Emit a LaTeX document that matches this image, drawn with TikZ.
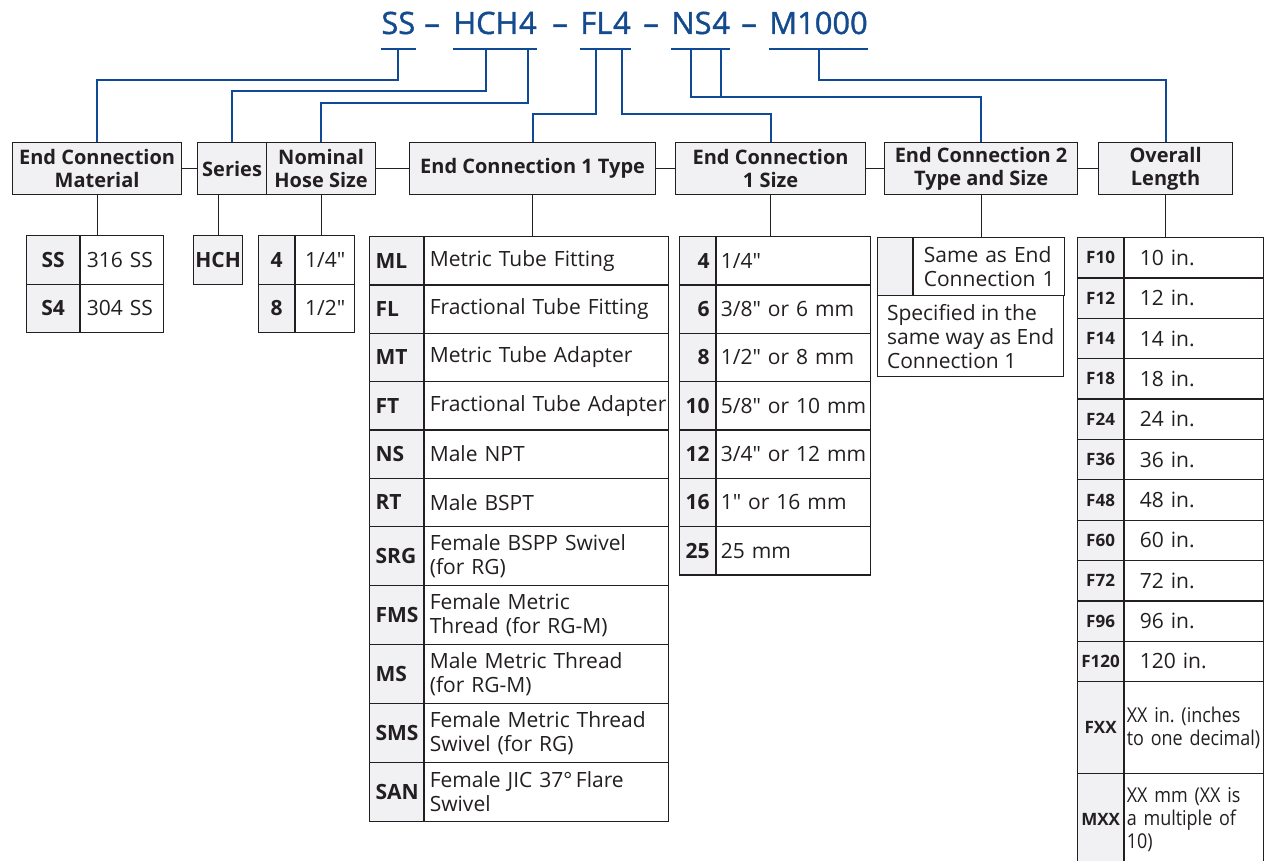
\documentclass[tikz,border=0pt]{standalone}
\usepackage{fontspec}
\setmainfont{Open Sans}[Ligatures=TeXOff]
\newfontfamily\titlefont{Open Sans}[FakeBold=1.2]
\usetikzlibrary{positioning}

\definecolor{codeblue}{HTML}{134B8E}
\definecolor{linkblue}{HTML}{0E4A96}
\definecolor{cellgray}{HTML}{F1F0F2}
\definecolor{inkgray}{HTML}{231F20}

\newcommand\cellfont{\fontsize{10.5}{12}\selectfont}
\frenchspacing

\begin{document}
\begin{tikzpicture}[
  x=0.5pt,
  y=-0.5pt,
  title/.style={font=\titlefont\fontsize{15.4}{18}\selectfont, text=codeblue, inner sep=0pt, anchor=base west},
  header/.style={
    draw=inkgray,
    fill=cellgray,
    line width=0.6pt,
    anchor=north west,
    align=center,
    inner sep=0pt,
    minimum height=26pt,
    text=inkgray,
    font=\bfseries\fontsize{10}{11.5}\selectfont
  },
  cell/.style={draw=inkgray, line width=0.6pt, anchor=north west, inner sep=0pt, text=inkgray},
  code/.style={cell, fill=cellgray, font=\bfseries\cellfont},
  desc/.style={cell, fill=white, align=left, font=\cellfont},
  matcode/.style={code, minimum width=26.5pt, minimum height=24.25pt},
  matdesc/.style={desc, inner xsep=3pt, text width=35.5pt, minimum height=24.25pt},
  sercode/.style={code, minimum width=24.5pt, minimum height=24.5pt},
  hosecode/.style={code, minimum width=18pt, minimum height=24.25pt},
  hosedesc/.style={desc, align=center, minimum width=29.5pt, minimum height=24.25pt},
  typecode/.style={code, align=left, inner xsep=3pt, text width=21pt, minimum height=24.17pt},
  typedesc/.style={desc, inner xsep=2.5pt, text width=117pt, minimum height=24.17pt},
  tall/.style={minimum height=29.5pt},
  sizecode/.style={code, align=right, inner xsep=3pt, text width=12pt, minimum height=24.17pt},
  sizedesc/.style={desc, inner xsep=2pt, text width=73pt, minimum height=24.17pt},
  lencode/.style={code, minimum width=23pt, minimum height=20.18pt, font=\bfseries\fontsize{8.5}{10}\selectfont},
  lendesc/.style={desc, inner xsep=7.5pt, text width=54.5pt, minimum height=20.18pt},
  wide/.style={minimum height=46pt, inner xsep=1pt, text width=67.5pt, font=\fontsize{10.2}{11.5}\selectfont\addfontfeatures{FakeStretch=0.88}},
  link/.style={draw=linkblue, line width=1pt},
  tie/.style={draw=inkgray, line width=0.6pt}
]
\fill[white] (0,0) rectangle (1268,861);
\useasboundingbox (0,0) rectangle (1268,861);

% part number
\node[title] (tSS) at (381,34) {SS};
\node[title] (tDa) at (424,34) {–};
\node[title] (tHCH) at (453,34) {HCH};
\node[title] (tH4) at (tHCH.base east) {4};
\node[title] (tDb) at (552,34) {–};
\node[title] (tFL) at (580,34) {FL};
\node[title] (tF4) at (tFL.base east) {4};
\node[title] (tDc) at (643,34) {–};
\node[title] (tNS) at (671,34) {NS};
\node[title] (tN4) at (tNS.base east) {4};
\node[title] (tDd) at (741,34) {–};
\node[title] (tM) at (769,34) {M1000};

% field headers
\node[header, minimum width=84.5pt] (hMat) at (12,142) {End Connection\\Material};
\node[header, minimum width=34.5pt] (hSer) at (197,142) {Series};
\node[header, minimum width=54.5pt] (hHose) at (266,142) {Nominal\\Hose Size};
\node[header, minimum width=123pt] (hT1) at (409,142) {End Connection 1 Type};
\node[header, minimum width=95pt] (hS1) at (675,142) {End Connection\\1 Size};
\node[header, minimum width=96.5pt] (hEnd2) at (884,142) {End Connection 2\\Type and Size};
\node[header, minimum width=67pt] (hLen) at (1098,142) {Overall\\Length};

% material
\node[matcode] (matSS) at (26,235) {SS};
\node[matdesc, right=0pt of matSS] (matSSt) {316 SS};
\node[matcode] (matS4) at (26,283.5) {S4};
\node[matdesc, right=0pt of matS4] (matS4t) {304 SS};

% series
\node[sercode] (serHCH) at (193,235) {HCH};

% hose size
\node[hosecode] (hose4) at (258,235) {4};
\node[hosedesc, right=0pt of hose4] (hose4t) {1/4"};
\node[hosecode] (hose8) at (258,283.5) {8};
\node[hosedesc, right=0pt of hose8] (hose8t) {1/2"};

% end connection 1 type
\node[typecode] (tyML) at (369,236) {ML};
\node[typedesc, right=0pt of tyML] (tyMLt) {Metric Tube Fitting};
\node[typecode] (tyFL) at (369,284.3) {FL};
\node[typedesc, right=0pt of tyFL] (tyFLt) {Fractional Tube Fitting};
\node[typecode] (tyMT) at (369,332.7) {MT};
\node[typedesc, right=0pt of tyMT] (tyMTt) {Metric Tube Adapter};
\node[typecode] (tyFT) at (369,381) {FT};
\node[typedesc, right=0pt of tyFT] (tyFTt) {\mbox{Fractional Tube Adapter}};
\node[typecode] (tyNS) at (369,429.3) {NS};
\node[typedesc, right=0pt of tyNS] (tyNSt) {Male NPT};
\node[typecode] (tyRT) at (369,477.7) {RT};
\node[typedesc, right=0pt of tyRT] (tyRTt) {Male BSPT};
\node[typecode, tall] (tySRG) at (369,526) {SRG};
\node[typedesc, tall, right=0pt of tySRG] (tySRGt) {Female BSPP Swivel\\(for RG)};
\node[typecode, tall] (tyFMS) at (369,585) {FMS};
\node[typedesc, tall, right=0pt of tyFMS] (tyFMSt) {Female Metric\\Thread (for RG-M)};
\node[typecode, tall] (tyMS) at (369,644) {MS};
\node[typedesc, tall, right=0pt of tyMS] (tyMSt) {Male Metric Thread\\(for RG-M)};
\node[typecode, tall] (tySMS) at (369,703) {SMS};
\node[typedesc, tall, right=0pt of tySMS] (tySMSt) {Female Metric Thread\\Swivel (for RG)};
\node[typecode, tall] (tySAN) at (369,762) {SAN};
\node[typedesc, tall, right=0pt of tySAN] (tySANt) {Female JIC 37°\,Flare\\Swivel};

% end connection 1 size
\node[sizecode] (sz4) at (679,236) {4};
\node[sizedesc, right=0pt of sz4] (sz4t) {1/4"};
\node[sizecode] (sz6) at (679,284.3) {6};
\node[sizedesc, right=0pt of sz6] (sz6t) {3/8" or 6 mm};
\node[sizecode] (sz8) at (679,332.7) {8};
\node[sizedesc, right=0pt of sz8] (sz8t) {1/2" or 8 mm};
\node[sizecode] (sz10) at (679,381) {10};
\node[sizedesc, right=0pt of sz10] (sz10t) {5/8" or 10 mm};
\node[sizecode] (sz12) at (679,429.3) {12};
\node[sizedesc, right=0pt of sz12] (sz12t) {3/4" or 12 mm};
\node[sizecode] (sz16) at (679,477.7) {16};
\node[sizedesc, right=0pt of sz16] (sz16t) {1" or 16 mm};
\node[sizecode] (sz25) at (679,526) {25};
\node[sizedesc, right=0pt of sz25] (sz25t) {25 mm};

% end connection 2
\node[code, minimum width=17.5pt, minimum height=29pt] (endSame) at (877,237) {};
\node[desc, inner xsep=5pt, text width=65.5pt, minimum height=29pt, right=0pt of endSame] (endSamet) {Same as End\\Connection 1};
\node[desc, minimum width=93pt, minimum height=40.5pt] (endSpec) at (877,295) {Specified in the\\same way as End\\Connection 1};

% overall length
\node[lencode] (lenF10) at (1077,237) {F10};
\node[lendesc, right=0pt of lenF10] (lenF10t) {10 in.};
\node[lencode] (lenF12) at (1077,277.4) {F12};
\node[lendesc, right=0pt of lenF12] (lenF12t) {12 in.};
\node[lencode] (lenF14) at (1077,317.7) {F14};
\node[lendesc, right=0pt of lenF14] (lenF14t) {14 in.};
\node[lencode] (lenF18) at (1077,358.1) {F18};
\node[lendesc, right=0pt of lenF18] (lenF18t) {18 in.};
\node[lencode] (lenF24) at (1077,398.5) {F24};
\node[lendesc, right=0pt of lenF24] (lenF24t) {24 in.};
\node[lencode] (lenF36) at (1077,438.8) {F36};
\node[lendesc, right=0pt of lenF36] (lenF36t) {36 in.};
\node[lencode] (lenF48) at (1077,479.2) {F48};
\node[lendesc, right=0pt of lenF48] (lenF48t) {48 in.};
\node[lencode] (lenF60) at (1077,519.5) {F60};
\node[lendesc, right=0pt of lenF60] (lenF60t) {60 in.};
\node[lencode] (lenF72) at (1077,559.9) {F72};
\node[lendesc, right=0pt of lenF72] (lenF72t) {72 in.};
\node[lencode] (lenF96) at (1077,600.3) {F96};
\node[lendesc, right=0pt of lenF96] (lenF96t) {96 in.};
\node[lencode] (lenF120) at (1077,640.6) {F120};
\node[lendesc, right=0pt of lenF120] (lenF120t) {120 in.};
\node[lencode, minimum height=46pt] (lenFXX) at (1077,681) {FXX};
\node[lendesc, wide, right=0pt of lenFXX] (lenFXXt) {XX in. (inches\\to one decimal)};
\node[lencode, minimum height=46pt] (lenMXX) at (1077,773) {MXX};
\node[lendesc, wide, right=0pt of lenMXX] (lenMXXt) {XX mm (XX is\\a multiple of\\10)};

% underlines and leaders
\draw[link] ([yshift=-7.5pt]tSS.base west) -- ([yshift=-7.5pt]tSS.base east);
\draw[link] ([yshift=-7.5pt]tHCH.base west) -- ([yshift=-7.5pt]tHCH.base east);
\draw[link] ([yshift=-7.5pt]tH4.base west) -- ([yshift=-7.5pt]tH4.base east);
\draw[link] ([yshift=-7.5pt]tFL.base west) -- ([yshift=-7.5pt]tFL.base east);
\draw[link] ([yshift=-7.5pt]tF4.base west) -- ([yshift=-7.5pt]tF4.base east);
\draw[link] ([yshift=-7.5pt]tNS.base west) -- ([yshift=-7.5pt]tNS.base east);
\draw[link] ([yshift=-7.5pt]tN4.base west) -- ([yshift=-7.5pt]tN4.base east);
\draw[link] ([yshift=-7.5pt]tM.base west) -- ([yshift=-7.5pt]tM.base east);

\draw[link] ([yshift=-7.5pt]tSS.base) -- ++(0,31) -| (hMat.north);
\draw[link] ([yshift=-7.5pt]tHCH.base) -- ++(0,42) -| (hSer.north);
\draw[link] ([yshift=-7.5pt]tH4.base) -- ++(0,54) -| (hHose.north);
\draw[link] ([yshift=-7.5pt]tFL.base) -- ++(0,65) -| (hT1.north);
\draw[link] ([yshift=-7.5pt]tF4.base) -- ++(0,65) -| (hS1.north);
\draw[link] ([yshift=-7.5pt]tNS.base) -- ++(0,48) -| (hEnd2.north);
\draw[link] ([yshift=-7.5pt]tN4.base) -- ++(0,48);
\draw[link] ([yshift=-7.5pt]tM.base) -- ++(0,31) -| (hLen.north);

% header ties
\draw[tie] (hMat) -- (hSer);
\draw[tie] (hHose) -- (hT1);
\draw[tie] (hT1) -- (hS1);
\draw[tie] (hS1) -- (hEnd2);
\draw[tie] (hEnd2) -- (hLen);

\draw[tie] (hMat.south) -- (hMat.south |- matSS.north);
\draw[tie] (serHCH.north) -- (serHCH.north |- hSer.south);
\draw[tie] (hHose.south) -- (hHose.south |- hose4.north);
\draw[tie] (hT1.south) -- (hT1.south |- tyML.north);
\draw[tie] (hS1.south) -- (hS1.south |- sz4.north);
\draw[tie] (hEnd2.south) -- (hEnd2.south |- endSame.north);
\draw[tie] (hLen.south) -- (hLen.south |- lenF10.north);
\end{tikzpicture}
\end{document}
